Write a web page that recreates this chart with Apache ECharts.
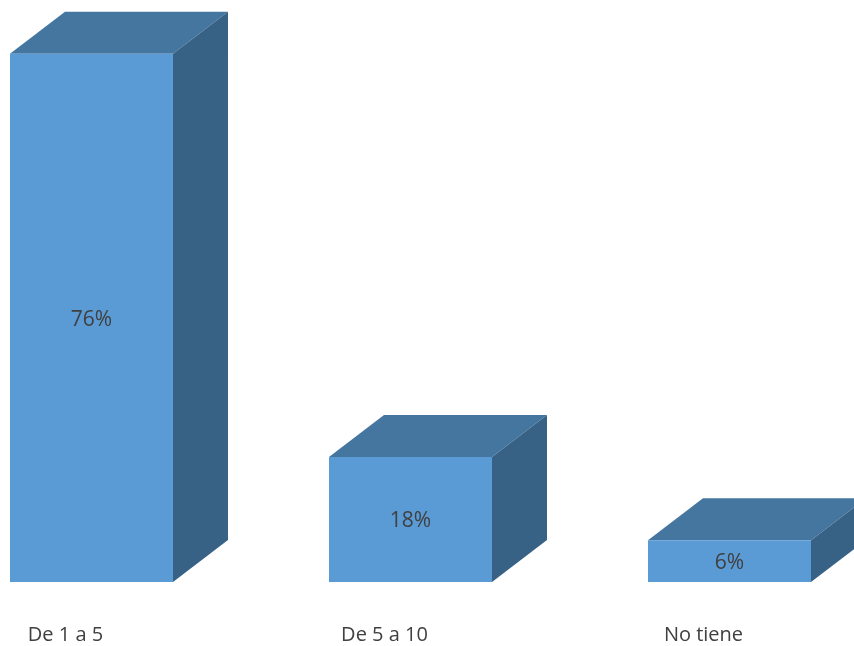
<!DOCTYPE html>
<html>
<head>
<meta charset="utf-8">
<script src="https://cdn.jsdelivr.net/npm/echarts@6/dist/echarts.min.js"></script>
<style>html,body{margin:0;padding:0;background:#fff}#c{width:854px;height:646px}</style>
</head>
<body>
<div id="c"></div>
<script>
const categories = ['De 1 a 5', 'De 5 a 10', 'No tiene'];
const values = [76, 18, 6];
const valueLabels = ['76%', '18%', '6%'];

const FONT = '"Open Sans", sans-serif';
const DEPTH_X = 55, DEPTH_Y = -42;

const chart = echarts.init(document.getElementById('c'), null, {renderer: 'canvas'});
chart.setOption({
  animation: false,
  backgroundColor: '#ffffff',
  grid: {left: 0, right: 0, top: 26, bottom: 64, containLabel: false},
  xAxis: {type: 'value', min: -0.2868, max: 2.3903, show: false},
  yAxis: {type: 'value', min: 0, max: 80, show: false},
  series: [{
    type: 'custom',
    clip: false,
    data: values.map((v, i) => [i, v]),
    renderItem: function (params, api) {
      const i = api.value(0), v = api.value(1);
      const base = api.coord([i, 0]);
      const top = api.coord([i, v]);
      const bw = api.size([1, 0])[0] * 0.511;
      const x0 = base[0] - bw / 2, x1 = base[0] + bw / 2;
      const yb = base[1], yt = top[1];
      return {
        type: 'group',
        children: [
          {type: 'polygon', shape: {points: [[x0, yt], [x0 + DEPTH_X, yt + DEPTH_Y], [x1 + DEPTH_X, yt + DEPTH_Y], [x1, yt]]},
           style: {fill: '#45769F'}},
          {type: 'polygon', shape: {points: [[x1, yt], [x1 + DEPTH_X, yt + DEPTH_Y], [x1 + DEPTH_X, yb + DEPTH_Y], [x1, yb]]},
           style: {fill: '#386285'}},
          {type: 'rect', shape: {x: x0, y: yt, width: bw, height: yb - yt},
           style: {fill: '#5B9BD5'}},
          {type: 'text', x: base[0], y: (yt + yb) / 2 + 2,
           style: {text: valueLabels[i], fill: '#404040', font: '21px ' + FONT, align: 'center', verticalAlign: 'middle'}},
          {type: 'text', x: base[0] - 26, y: yb + 53,
           style: {text: categories[i], fill: '#404040', font: '20px ' + FONT, align: 'center', verticalAlign: 'middle'}}
        ]
      };
    }
  }]
});
</script>
</body>
</html>
